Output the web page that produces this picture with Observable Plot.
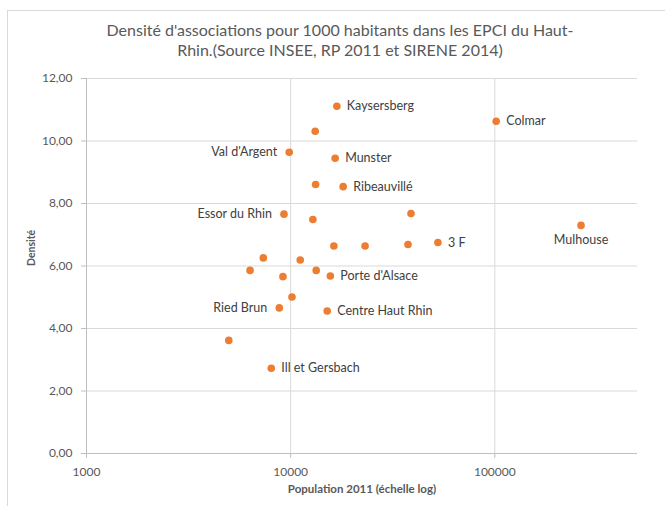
<!DOCTYPE html>
<html>
<head>
<meta charset="utf-8">
<script src="https://cdn.jsdelivr.net/npm/d3@7"></script>
<script src="https://cdn.jsdelivr.net/npm/@observablehq/plot@0.6"></script>
<style>
  html, body { margin: 0; padding: 0; background: #fff; }
  #wrap { position: relative; width: 665px; height: 506px; overflow: hidden; font-family: Lato, "Open Sans", sans-serif; }
  #frame { position: absolute; left: 7px; top: 10px; width: 680px; height: 520px; border: 1px solid #d9d9d9; box-sizing: border-box; }
  #title { position: absolute; left: 0; width: 680px; top: 20px; text-align: center; color: #595959; font-size: 16px; line-height: 20px; }
  #chart { position: absolute; left: 0; top: 0; }
</style>
</head>
<body>
<div id="wrap">
  <div id="frame"></div>
  <div id="title">Densité d'associations pour 1000 habitants dans les EPCI du Haut-<br>Rhin.(Source INSEE, RP 2011 et SIRENE 2014)</div>
  <div id="chart"></div>
</div>
<script>
// Population 2011 of each EPCI (x, log scale)
const population = [16840, 13190, 9840, 16520, 13250, 18080, 101600, 9275, 12850, 38860, 16280, 23150, 37570, 52650, 264500, 7347, 11140, 6325, 9170, 13340, 15650, 10150, 8797, 15100, 4977, 8038];
// Density of associations per 1000 inhabitants (y)
const densite = [11.11, 10.31, 9.64, 9.45, 8.61, 8.54, 10.63, 7.66, 7.49, 7.68, 6.64, 6.64, 6.69, 6.75, 7.30, 6.26, 6.19, 5.86, 5.66, 5.86, 5.68, 5.01, 4.66, 4.56, 3.62, 2.73];
// Point labels (empty = no label)
const labels = ["Kaysersberg", "", "Val d'Argent", "Munster", "", "Ribeauvillé", "Colmar", "Essor du Rhin", "", "", "", "", "", "3 F", "Mulhouse", "", "", "", "", "", "Porte d'Alsace", "", "Ried Brun", "Centre Haut Rhin", "", "Ill et Gersbach"];
// Label placement relative to the point
const labelSide = ["right", "", "left", "right", "", "right", "right", "left", "", "", "", "", "", "right", "below", "", "", "", "", "", "right", "", "left", "right", "", "right"];
// Axis ticks
const xTicks = [1000, 10000, 100000];
const yTicks = [0, 2, 4, 6, 8, 10, 12];

const data = population.map((p, i) => ({pop: p, dens: densite[i], label: labels[i], side: labelSide[i]}));
const labeled = data.filter(d => d.label);
const right = labeled.filter(d => d.side === "right");
const left = labeled.filter(d => d.side === "left");
const below = labeled.filter(d => d.side === "below");

const grid = "#d9d9d9";
const axisCol = "#bfbfbf";
const textCol = "#595959";
const fmt = d => d.toFixed(2).replace(".", ",");

const chart = Plot.plot({
  width: 665,
  height: 506,
  marginLeft: 86,
  marginRight: 28,
  marginTop: 78,
  marginBottom: 53,
  style: {fontFamily: "Lato, 'Open Sans', sans-serif", background: "transparent", color: textCol},
  x: {type: "log", domain: [1000, 500000]},
  y: {domain: [0, 12]},
  marks: [
    Plot.ruleY(yTicks.filter(v => v > 0), {stroke: grid, strokeWidth: 1}),
    Plot.ruleX(xTicks.filter(v => v > 1000), {stroke: grid, strokeWidth: 1}),
    Plot.ruleX([1000], {stroke: axisCol, strokeWidth: 1}),
    Plot.ruleY([0], {stroke: axisCol, strokeWidth: 1}),
    Plot.axisY({ticks: yTicks, tickFormat: fmt, tickSize: 5, tickPadding: 9, stroke: axisCol, fill: textCol, fontSize: 12, label: null}),
    Plot.axisX({ticks: xTicks, tickFormat: d => String(d), tickSize: 5, tickPadding: 9, stroke: axisCol, fill: textCol, fontSize: 12, label: null}),
    Plot.text(["Densité"], {frameAnchor: "left", dx: -55, rotate: -90, fontWeight: "bold", fontSize: 10.5, fill: textCol}),
    Plot.text(["Population 2011 (échelle log)"], {frameAnchor: "bottom", dy: 39, fontWeight: "bold", fontSize: 11.5, fill: textCol}),
    Plot.dot(data, {x: "pop", y: "dens", r: 3.8, fill: "#ED7D31", stroke: "none"}),
    Plot.text(right, {x: "pop", y: "dens", text: "label", textAnchor: "start", dx: 10, fontSize: 12.5, fill: "#404040"}),
    Plot.text(left, {x: "pop", y: "dens", text: "label", textAnchor: "end", dx: -12, fontSize: 12.5, fill: "#404040"}),
    Plot.text(below, {x: "pop", y: "dens", text: "label", textAnchor: "middle", dy: 15, fontSize: 12.5, fill: "#404040"})
  ]
});
document.getElementById("chart").appendChild(chart);
</script>
</body>
</html>
